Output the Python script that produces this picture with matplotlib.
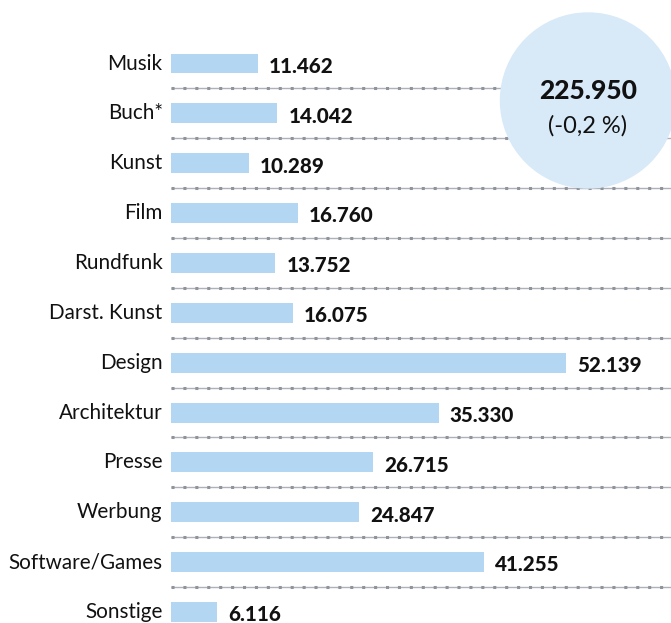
import matplotlib
matplotlib.use("Agg")
from matplotlib import pyplot as plt
from matplotlib.patches import Ellipse

plt.rcParams['font.family'] = ['Lato', 'DejaVu Sans']

categories = ['Musik', 'Buch*', 'Kunst', 'Film', 'Rundfunk', 'Darst. Kunst',
              'Design', 'Architektur', 'Presse', 'Werbung', 'Software/Games',
              'Sonstige']
values = [11462, 14042, 10289, 16760, 13752, 16075,
          52139, 35330, 26715, 24847, 41255, 6116]
total_label = '225.950'
change_label = '(-0,2 %)'

bar_color = '#b3d7f3'
circle_color = '#d8e9f8'
line_color = '#8f949b'

W, H = 671, 623
fig = plt.figure(figsize=(W / 100, H / 100), dpi=100)
ax = fig.add_axes([0, 0, 1, 1])

# pixel layout: bars start at x=171, Design (52.139) ends at x=566
scale = (566 - 171) / 52139
ax.set_xlim(-171 / scale, (W - 171) / scale)
row = 49.86
ax.set_ylim(11 + (H - 612) / row, -63.5 / row)
ax.axis('off')

y = list(range(len(categories)))
ax.barh(y, values, height=0.4, color=bar_color, zorder=2)

for i, (cat, v) in enumerate(zip(categories, values)):
    ax.annotate(cat, (0, i), xytext=(-6, 0), textcoords='offset points',
                ha='right', va='center', fontsize=14.9, color='#111111')
    txt = f'{v:,}'.replace(',', '.')
    ax.annotate(txt, (v, i), xytext=(8, -2), textcoords='offset points',
                ha='left', va='center', fontsize=14.8, fontweight='black',
                color='#111111')
    if i < len(categories) - 1:
        ax.plot([0, ax.get_xlim()[1]], [i + 0.5, i + 0.5], color='#aeb2b8',
                lw=1, zorder=1, solid_capstyle='butt')
        ax.plot([0, ax.get_xlim()[1]], [i + 0.5, i + 0.5], color=line_color,
                lw=2.2, ls=(0, (1, 2.9)), zorder=1)

# total circle
cx, cy, r = 588 / W, 1 - 100.5 / H, 87.5
fig.patches.append(Ellipse((cx, cy), 2 * r / W, 2 * r / H,
                           transform=fig.transFigure, color=circle_color,
                           zorder=3))
fig.text(cx, 1 - 91 / H, total_label, ha='center', va='center', fontsize=19,
         fontweight='black', color='#111111', zorder=4)
fig.text(cx, 1 - 126 / H, change_label, ha='center', va='center', fontsize=17,
         color='#111111', zorder=4)

fig.savefig('out.png', dpi=100)
